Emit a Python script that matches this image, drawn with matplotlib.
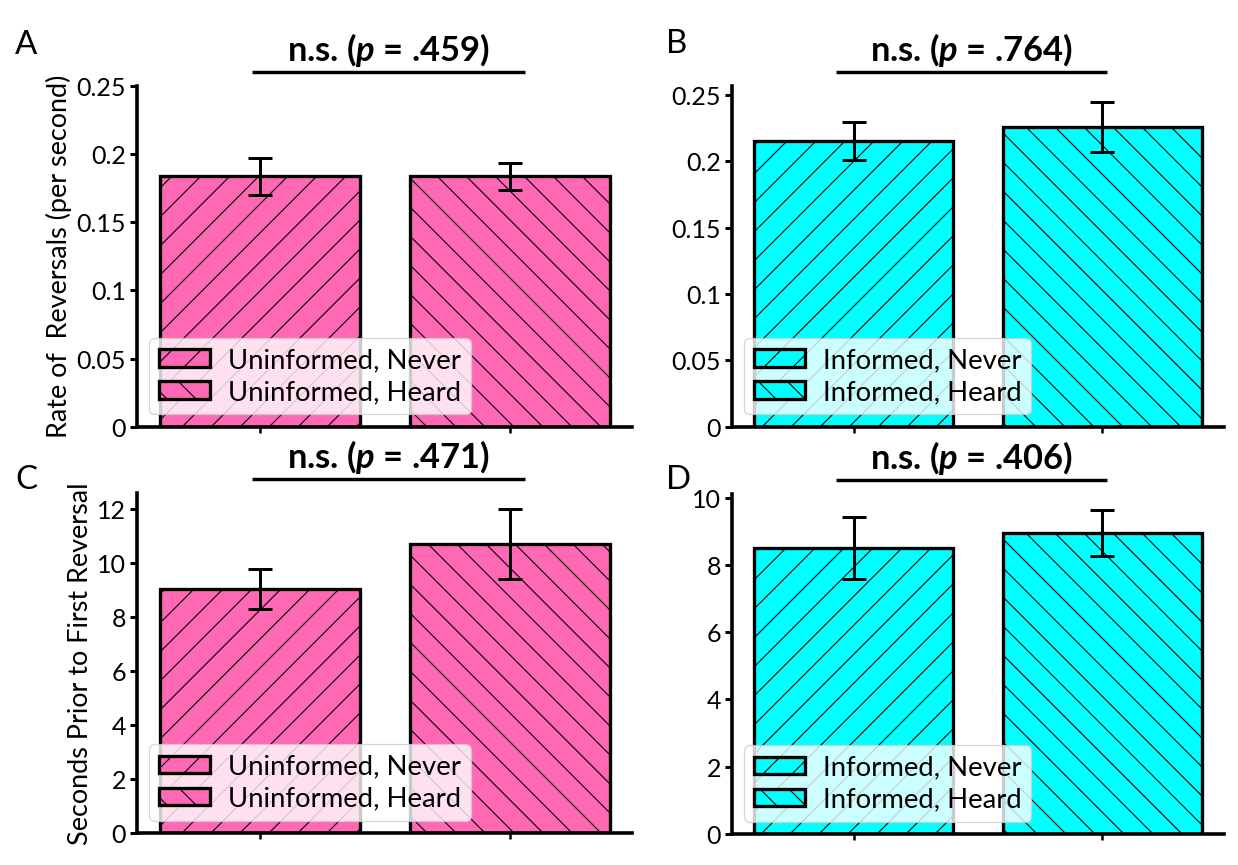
import matplotlib
matplotlib.use("Agg")
import matplotlib.pyplot as plt
import matplotlib.transforms as mtransforms
from matplotlib.ticker import FuncFormatter

DPI = 174
W, H = 1238, 865


def pt(px):
    # pixel size -> points at the save dpi
    return px * 72.0 / DPI


plt.rcParams['font.family'] = ['Lato', 'DejaVu Sans']
plt.rcParams['mathtext.fontset'] = 'custom'
plt.rcParams['mathtext.it'] = 'Lato:style=italic:weight=bold'
plt.rcParams['hatch.linewidth'] = pt(1.1)
plt.rcParams['hatch.color'] = 'black'

# data
labels_uninf = ['Uninformed, Never', 'Uninformed, Heard']
labels_inf = ['Informed, Never', 'Informed, Heard']

rate_uninf = [0.1835, 0.1835]
rate_uninf_err = [0.0135, 0.0098]
rate_inf = [0.2155, 0.226]
rate_inf_err = [0.0143, 0.019]

first_uninf = [9.05, 10.7]
first_uninf_err = [0.74, 1.3]
first_inf = [8.5, 8.95]
first_inf_err = [0.93, 0.68]

p_values = ['.459', '.764', '.471', '.406']
panel_letters = ['A', 'B', 'C', 'D']

rate_ticks = [0, 0.05, 0.1, 0.15, 0.2, 0.25]
first_ticks_c = [0, 2, 4, 6, 8, 10, 12]
first_ticks_d = [0, 2, 4, 6, 8, 10]

PINK = '#ff69b4'
CYAN = '#00ffff'

fig = plt.figure(figsize=(W / DPI, (H + 0.5) / DPI), dpi=DPI)


def make_axes(left, top, right, bottom):
    return fig.add_axes([left / W, (H - bottom) / H, (right - left) / W, (bottom - top) / H])


def bar_panel(ax, vals, errs, names, color, ticks, p, line_x):
    xs = [0, 1]
    for x, v, e, name, hatch in zip(xs, vals, errs, names, ['//', '\\\\']):
        ax.bar(x, v, width=0.8, color=color, edgecolor='black', linewidth=pt(3.3),
               hatch=hatch, label=name, zorder=2)
        ax.errorbar(x, v, yerr=e, color='black', elinewidth=pt(3), capsize=pt(12),
                    capthick=pt(3), zorder=3)
    ax.spines['top'].set_visible(False)
    ax.spines['right'].set_visible(False)
    ax.spines['left'].set_linewidth(pt(3.6))
    ax.spines['bottom'].set_linewidth(pt(3.6))
    ax.set_xticks(xs)
    ax.set_xticklabels(['', ''])
    ax.tick_params(axis='x', length=pt(6), width=pt(2.5))
    ax.set_yticks(ticks)
    ax.yaxis.set_major_formatter(FuncFormatter(lambda v, pos: '%g' % v))
    ax.tick_params(axis='y', length=pt(7), width=pt(3), labelsize=pt(25), pad=pt(4))
    leg = ax.legend(loc='lower left', fontsize=pt(27.5), framealpha=0.8, fancybox=True,
                    edgecolor='#cccccc', handlelength=1.85, handleheight=0.6,
                    handletextpad=0.65, borderpad=0.35, labelspacing=0.25,
                    borderaxespad=0.45)
    leg.get_frame().set_linewidth(pt(1.3))

    trans = mtransforms.blended_transform_factory(ax.transData, ax.transAxes)
    ax.plot(line_x, [1.04, 1.04], color='black', lw=pt(3.4), transform=trans,
            clip_on=False, solid_capstyle='butt')
    ax.text(sum(line_x) / 2, 1.074, 'n.s. ($p$ = %s)' % p, transform=trans,
            ha='center', va='baseline', fontsize=pt(34.5), fontweight='bold')


ax_a = make_axes(137, 86, 632, 427)
ax_b = make_axes(732, 86, 1224, 427)
ax_c = make_axes(137, 493, 632, 833)
ax_d = make_axes(732, 494, 1224, 834)

bar_panel(ax_a, rate_uninf, rate_uninf_err, labels_uninf, PINK, rate_ticks, p_values[0], [-0.03, 1.06])
ax_a.set_ylim(0, 0.25)
bar_panel(ax_b, rate_inf, rate_inf_err, labels_inf, CYAN, rate_ticks, p_values[1], [-0.07, 1.02])
bar_panel(ax_c, first_uninf, first_uninf_err, labels_uninf, PINK, first_ticks_c, p_values[2], [-0.03, 1.06])
bar_panel(ax_d, first_inf, first_inf_err, labels_inf, CYAN, first_ticks_d, p_values[3], [-0.07, 1.02])

ax_a.set_ylabel('Rate of  Reversals (per second)', fontsize=pt(27), labelpad=pt(4))
ax_c.set_ylabel('Seconds Prior to First Reversal', fontsize=pt(27), labelpad=pt(4))

for letter, (x, y) in zip(panel_letters, [(15, 54), (666, 53), (15, 489), (666, 489)]):
    fig.text(x / W, 1 - y / H, letter, fontsize=pt(33), ha='left', va='baseline')

fig.savefig('out.png', dpi=DPI)
